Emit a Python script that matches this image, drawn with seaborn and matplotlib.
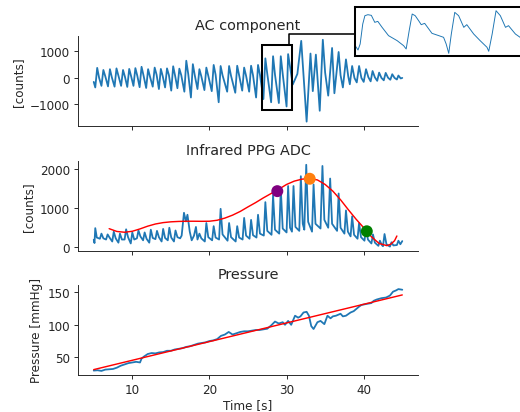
import matplotlib
matplotlib.use("Agg")
import matplotlib.pyplot as plt
from matplotlib.patches import Rectangle
from matplotlib.lines import Line2D
import seaborn as sns

# AC component (bandpassed PPG), time [s] and counts
ac_t = [5.00, 5.20, 5.45, 5.70, 6.00, 6.25, 6.50, 6.85, 7.10, 7.35, 7.70, 7.95, 8.20,
        8.55, 8.80, 9.05, 9.35, 9.60, 9.85, 10.15, 10.40, 10.65, 10.95, 11.20, 11.45,
        11.80, 12.05, 12.30, 12.65, 12.90, 13.15, 13.45, 13.70, 13.95, 14.25, 14.50,
        14.75, 15.05, 15.30, 15.55, 15.85, 16.10, 16.35, 16.75, 17.00, 17.25, 17.60,
        17.85, 18.10, 18.45, 18.70, 18.95, 19.35, 19.60, 19.85, 20.30, 20.55, 20.80,
        21.20, 21.45, 21.70, 22.30, 22.55, 22.80, 23.35, 23.60, 23.85, 24.25, 24.50,
        24.75, 25.15, 25.40, 25.65, 26.05, 26.30, 26.55, 27.00, 27.25, 27.50, 28.00,
        28.25, 28.50, 29.00, 29.25, 29.50, 30.00, 30.20, 30.80, 31.40, 31.90, 32.60,
        33.10, 33.40, 33.80, 34.30, 34.70, 35.00, 35.40, 35.90, 36.20, 36.75, 37.00,
        37.30, 37.70, 38.00, 38.20, 38.50, 38.80, 39.10, 39.40, 39.70, 40.00, 40.30,
        40.60, 40.90, 41.15, 41.45, 41.75, 42.00, 42.30, 42.60, 42.85, 43.15, 43.45,
        43.70, 44.00, 44.30, 44.50, 44.80, 45.00]
ac_v = [-150, -360, 380, 0, -300, 300, 60, -320, 330, 20, -330, 360, 80,
        -300, 300, 40, -340, 340, 60, -300, 370, 80, -350, 420, 100,
        -380, 330, 40, -330, 390, 120, -420, 340, 60, -360, 360,
        100, -480, 440, 80, -390, 350, 100, -520, 650, 150, -740,
        520, 100, -420, 330, 60, -460, 390, 80, -500, 490, 120,
        -920, 450, 100, -520, 450, 80, -560, 460, 100, -480, 390,
        80, -520, 460, 100, -740, 490, 120, -800, 740, 150, -920,
        820, 120, -950, 820, 150, -1080, 900, -250, 150, 1400, -1650,
        920, -500, 880, -1240, 1440, 200, -670, 1130, -580, 980, 100,
        -360, 700, 50, -240, 450, 0, -170, 450, 0, -150, 330,
        30, -130, 260, 20, -110, 200, 0, -90, 190, 10, -70,
        140, 0, -60, 90, -20, 0]

# raw infrared PPG ADC
ppg_t = [5.00, 5.10, 5.20, 5.40, 5.80, 6.00, 6.25, 6.60, 6.80, 7.05, 7.40, 7.60, 7.85,
         8.20, 8.40, 8.65, 9.00, 9.20, 9.45, 9.80, 10.00, 10.25, 10.60, 10.80, 11.05,
         11.40, 11.60, 11.85, 12.20, 12.40, 12.65, 13.00, 13.20, 13.45, 13.80, 14.00,
         14.25, 14.60, 14.80, 15.05, 15.40, 15.60, 15.85, 16.20, 16.40, 16.70, 16.95,
         17.15, 17.45, 17.70, 18.00, 18.25, 18.45, 18.70, 18.95, 19.40, 19.60, 19.85,
         20.35, 20.55, 20.80, 21.25, 21.45, 21.70, 22.35, 22.55, 22.80, 23.40, 23.60,
         23.85, 24.30, 24.50, 24.75, 25.20, 25.40, 25.65, 26.10, 26.30, 26.55, 27.05,
         27.25, 27.50, 28.05, 28.25, 28.50, 29.05, 29.25, 29.50, 30.00, 30.20, 30.45,
         30.70, 30.90, 31.15, 31.65, 31.85, 32.10, 32.30, 32.55, 32.80, 33.30, 33.50,
         33.75, 34.40, 34.65, 34.90, 35.40, 35.65, 35.90, 36.55, 36.75, 37.00, 37.50,
         37.70, 37.95, 38.30, 38.50, 38.75, 39.20, 39.40, 39.65, 40.10, 40.30, 40.55,
         41.00, 41.20, 41.45, 41.90, 42.10, 42.35, 42.50, 42.70, 42.95, 43.40, 43.60,
         43.85, 44.30, 44.50, 44.75, 45.00]
ppg_v = [195, 110, 490, 250, 220, 350, 230, 200, 330, 250, 150, 400, 230,
         120, 350, 200, 200, 460, 260, 100, 380, 200, 230, 430, 280,
         180, 380, 220, 120, 450, 240, 210, 420, 260, 150, 470,
         240, 180, 500, 250, 150, 430, 260, 230, 300, 880, 660,
         830, 400, 180, 300, 520, 200, 350, 230, 150, 620, 260,
         180, 540, 250, 200, 980, 330, 170, 620, 260, 150, 540,
         250, 200, 750, 300, 220, 700, 310, 250, 830, 350, 300,
         1150, 420, 320, 1330, 450, 350, 1500, 480, 380, 1560, 500,
         400, 1560, 520, 420, 1810, 600, 450, 2100, 650, 400, 1600,
         600, 480, 2070, 700, 500, 1750, 600, 420, 1370, 500, 350,
         940, 400, 280, 790, 320, 220, 620, 260, 170, 500, 200,
         100, 330, 120, 40, 170, 60, 30, 340, 80, 20, 130,
         50, 60, 170, 80, 160]

# envelope fit through the pulse peaks
env_t = [7, 8, 9, 10, 11, 12, 13, 14, 15, 16, 17, 18, 19, 20, 21, 22, 23, 24, 25, 26,
         27, 28, 29, 30, 31, 32, 33, 34, 35, 36, 37, 38, 39, 40, 41, 42, 43, 43.5, 44, 44.3]
env_v = [476, 405, 385, 410, 470, 540, 595, 630, 650, 660, 665, 665, 663, 665, 690, 745,
         820, 915, 1030, 1140, 1260, 1370, 1480, 1600, 1685, 1735, 1750, 1715, 1600, 1430,
         1210, 960, 720, 500, 270, 100, 45, 80, 170, 290]

# key points on the envelope
key_t = [28.8, 33.0, 40.4]
key_v = [1430, 1745, 410]
key_names = ["start", "max", "end"]
key_colors = ["purple", "#ff7f0e", "green"]

# cuff pressure
pres_t = [5.0, 5.5, 6.0, 6.5, 7.0, 7.5, 8.0, 8.5, 9.0, 9.5, 10.0, 10.5, 11.0, 11.2, 11.5,
          12.0, 12.5, 13.0, 13.5, 14.0, 14.5, 15.0, 15.5, 16.0, 16.5, 17.0, 17.5, 18.0,
          18.5, 19.0, 19.5, 20.0, 20.5, 21.0, 21.5, 22.0, 22.5, 23.0, 23.5, 24.0, 24.5,
          25.0, 25.5, 26.0, 26.5, 27.0, 27.5, 28.0, 28.5, 29.0, 29.5, 29.8, 30.2, 30.6,
          31.1, 31.5, 31.8, 32.2, 32.6, 32.9, 33.2, 33.5, 34.0, 34.4, 34.9, 35.3, 35.7,
          36.0, 36.4, 37.0, 37.3, 37.7, 38.3, 38.7, 39.0, 39.4, 39.7, 40.3, 41.0, 41.3,
          41.7, 42.3, 42.9, 43.4, 43.8, 44.2, 44.5, 45.0]
pres_v = [29.5, 30, 29, 31, 31.5, 32, 34, 37, 39, 41, 42, 43, 42, 48, 51,
          55, 56.5, 56, 57.5, 58, 60, 60, 62, 63, 64, 66, 67, 69,
          71, 72, 73, 75, 76, 78, 83, 85, 89, 85, 87, 89, 90,
          90, 91, 92, 92, 93, 94, 99, 105, 102, 104, 100, 106, 100,
          114, 111, 113, 119, 120, 114, 98, 93.5, 104, 106, 101, 114, 110,
          113, 114, 117, 113, 114, 119, 121, 124, 128, 130.5, 132, 133.5, 137,
          139, 141, 142, 145, 151, 153, 155, 154]

# linear fit of pressure
fit_t = [5, 45]
fit_v = [31, 146]

# detailed pulse shape for the zoomed inset (arbitrary units)
zoom_t = [27.02, 27.07, 27.12, 27.18, 27.23, 27.30, 27.38, 27.46, 27.53, 27.63, 27.78,
          27.98, 28.13, 28.19, 28.26, 28.33, 28.40, 28.48, 28.54, 28.62, 28.79, 28.95,
          29.06, 29.12, 29.18, 29.24, 29.32, 29.41, 29.53, 29.60, 29.76, 29.91, 30.07,
          30.11, 30.19, 30.28, 30.38, 30.50, 30.57, 30.73, 30.84, 30.95, 31.00]
zoom_v = [22, 12, 30, 90, 115, 118, 116, 95, 98, 80, 55,
          40, 25, 15, 70, 120, 115, 100, 88, 92, 62, 55,
          50, 30, 2, 60, 125, 115, 80, 88, 60, 40, 20,
          8, 60, 130, 115, 80, 85, 60, 50, 35, 25]

BLUE = "#1f77b4"
DPI = 86
W, H = 520, 413


def px_box(left, top, right, bottom):
    # pixel box -> figure fraction rect
    return [left / W, 1 - bottom / H, (right - left) / W, (bottom - top) / H]


sns.set_style("ticks")
plt.rcParams["font.family"] = ["DejaVu Sans"]
plt.rcParams["axes.titlesize"] = 12
plt.rcParams["axes.labelsize"] = 10
plt.rcParams["xtick.labelsize"] = 10
plt.rcParams["ytick.labelsize"] = 10

fig = plt.figure(figsize=(W / DPI, H / DPI), dpi=DPI)

ax1 = fig.add_axes(px_box(78.3, 36.7, 417.7, 126.7))
ax2 = fig.add_axes(px_box(78.3, 161.7, 417.7, 251.7), sharex=ax1)
ax3 = fig.add_axes(px_box(78.3, 286.0, 417.7, 376.0), sharex=ax1)

# AC component
sns.lineplot(x=ac_t, y=ac_v, ax=ax1, color=BLUE, linewidth=1.5)
ax1.set_title("AC component")
ax1.set_ylabel("[counts]")
ax1.add_patch(Rectangle((26.8, -1200), 3.9, 2430, fill=False, edgecolor="k",
                        linewidth=1.7, zorder=5))

# Infrared PPG with envelope
sns.lineplot(x=ppg_t, y=ppg_v, ax=ax2, color=BLUE, linewidth=1.5)
sns.lineplot(x=env_t, y=env_v, ax=ax2, color="red", linewidth=1.2)
sns.scatterplot(x=key_t, y=key_v, hue=key_names, palette=key_colors, s=100,
                linewidth=0, legend=False, ax=ax2, zorder=5)
ax2.set_title("Infrared PPG ADC")
ax2.set_ylabel("[counts]")

# Pressure
sns.lineplot(x=pres_t, y=pres_v, ax=ax3, color=BLUE, linewidth=1.5)
sns.lineplot(x=fit_t, y=fit_v, ax=ax3, color="red", linewidth=1.2)
ax3.set_title("Pressure")
ax3.set_ylabel("Pressure [mmHg]")
ax3.set_xlabel("Time [s]", labelpad=1)
ax3.set_yticks([50, 100, 150])

for ax in (ax1, ax2):
    ax.tick_params(labelbottom=False)
    ax.set_xlabel("")
ax1.set_xticks([10, 20, 30, 40])
for ax in (ax1, ax2, ax3):
    sns.despine(ax=ax)

# zoomed inset
axin = fig.add_axes(px_box(355, 7.7, 527, 57.3))
sns.lineplot(x=zoom_t, y=zoom_v, ax=axin, color=BLUE, linewidth=0.8)
axin.set_xlim(27.0, 31.0)
axin.set_ylim(-7, 142)
axin.set_xticks([])
axin.set_yticks([])
axin.set_xlabel("")
axin.set_ylabel("")
for sp in axin.spines.values():
    sp.set_color("k")
    sp.set_linewidth(1.7)

# connector from the box to the inset
fig.add_artist(Line2D([288.7 / W, 288.7 / W, 355 / W],
                      [1 - 45.7 / H, 1 - 35 / H, 1 - 35 / H],
                      color="k", linewidth=1.3))

fig.savefig("out.png", dpi=DPI)
